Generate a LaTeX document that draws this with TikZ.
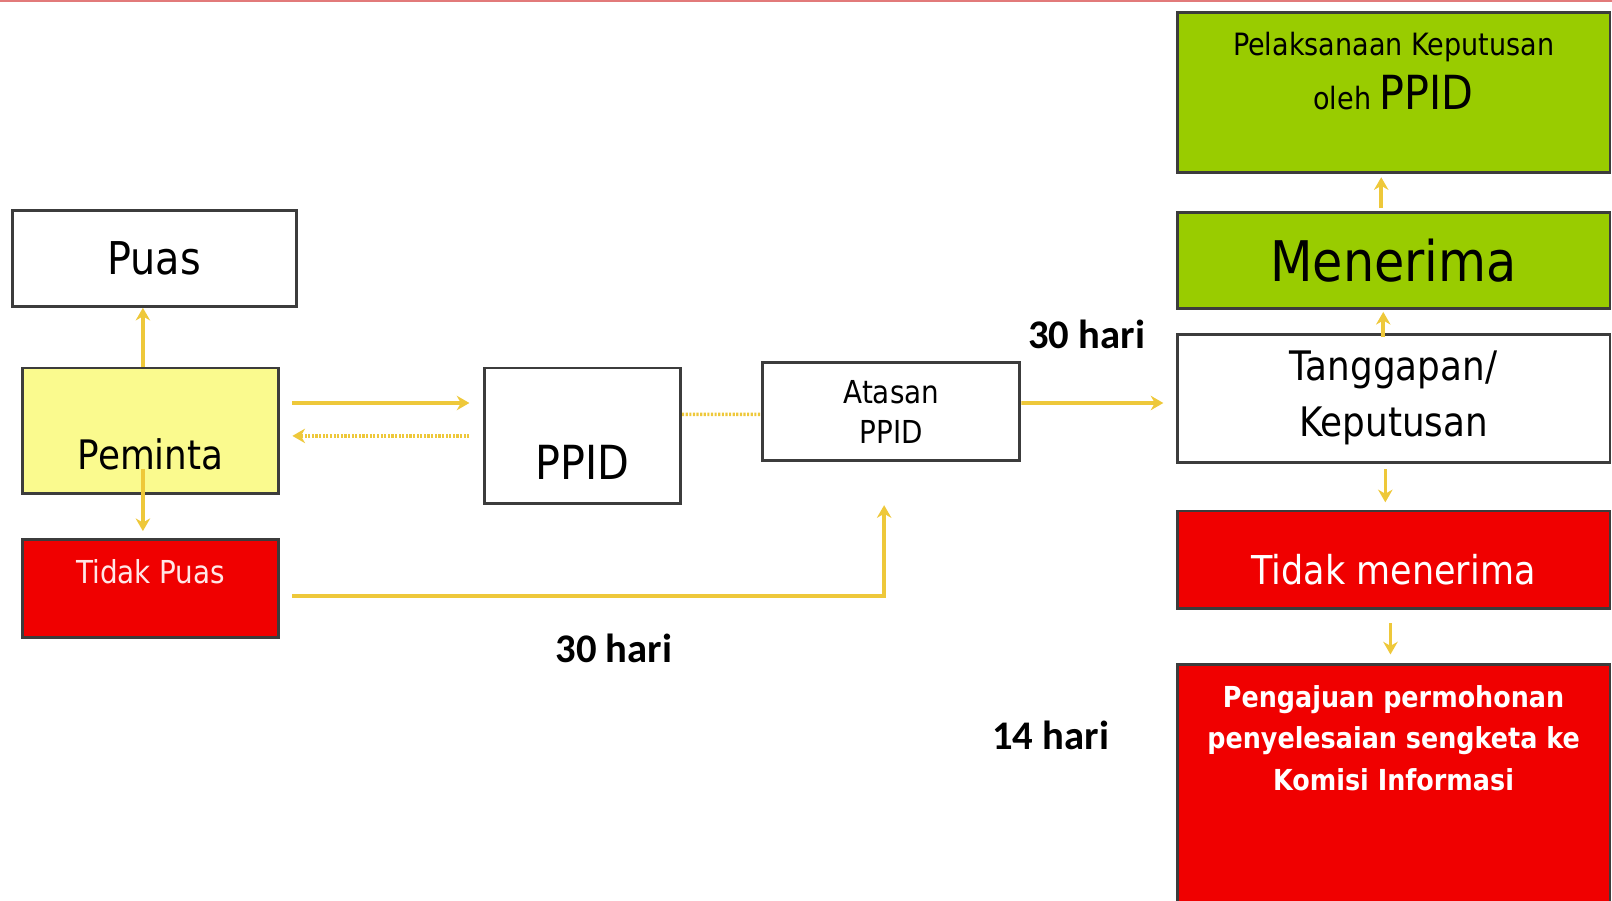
\documentclass[tikz,border=0pt]{standalone}
\usepackage{fontspec}
\setmainfont{DejaVu Sans}[FakeStretch=0.88]
\newfontfamily\harifont{Carlito}
\usetikzlibrary{arrows.meta,positioning,calc}

\definecolor{kuning}{HTML}{FAFA8E}
\definecolor{hijau}{HTML}{99CC00}
\definecolor{merah}{HTML}{F00000}
\definecolor{emas}{HTML}{EEC83A}
\definecolor{garis}{HTML}{3C3C3C}
\definecolor{garisatas}{HTML}{E27A7A}
\definecolor{tekspucat}{HTML}{FFE6E6}

\begin{document}
\begin{tikzpicture}[x=0.2mm, y=-0.2mm,
    kotak/.style={draw=garis, line width=1.6pt, inner sep=0pt, align=center},
    panah/.style={-{Stealth[length=7pt,width=8pt]}, line width=2pt, emas},
    titik/.style={line width=2pt, emas, dash pattern=on 1.2pt off 0.8pt},
    hari/.style={font=\harifont\bfseries\fontsize{22.5}{26}\selectfont}]
  \useasboundingbox (0,0) rectangle (1568,876);
  \draw[garisatas, line width=1.2pt] (0,1) -- (1568,1);

  % kiri
  \node[kotak, minimum width=55.2mm, minimum height=18.6mm,
    font=\fontsize{25}{29}\selectfont] (puas) at (150,251.5) {Puas};
  \node[kotak, fill=kuning, minimum width=49.8mm, minimum height=24.4mm,
    label={[font=\fontsize{22.5}{27}\selectfont, yshift=-4.6mm]center:Peminta}]
    (peminta) at (146.5,419) {};
  \node[kotak, fill=merah, minimum width=49.8mm, minimum height=19mm,
    label={[font=\fontsize{17.5}{21}\selectfont, text=tekspucat, yshift=3.2mm]center:Tidak Puas}]
    (tidakpuas) at (146.5,572.5) {};

  % tengah
  \node[kotak, minimum width=38.2mm, minimum height=26.4mm,
    label={[font=\fontsize{26}{30}\selectfont, yshift=-5.2mm]center:PPID}]
    (ppid) at (566.5,424) {};
  \node[kotak, minimum width=50mm, minimum height=19mm,
    font=\fontsize{17.5}{22}\selectfont] (atasan) at (867,400.5) {Atasan\\PPID};

  % kanan
  \node[kotak, fill=hijau, minimum width=84.2mm, minimum height=31.2mm,
    label={[font=\fontsize{17}{30}\selectfont, align=center, yshift=4.2mm]center:Pelaksanaan Keputusan\\oleh {\fontsize{26}{30}\selectfont PPID}}]
    (pelaksanaan) at (1355.5,90) {};
  \node[kotak, fill=hijau, minimum width=84.2mm, minimum height=18.6mm,
    font=\fontsize{31}{35}\selectfont] (menerima) at (1355.5,253.5) {Menerima};
  \node[kotak, minimum width=84.2mm, minimum height=25mm,
    font=\fontsize{22.5}{31}\selectfont] (tanggapan) at (1355.5,387.5) {Tanggapan/\\Keputusan};
  \node[kotak, fill=merah, minimum width=84.2mm, minimum height=19mm,
    label={[font=\fontsize{22}{26}\selectfont, text=white, yshift=-2mm]center:Tidak menerima}]
    (tidakmenerima) at (1355.5,544.5) {};
  \node[kotak, fill=merah, minimum width=84.2mm, minimum height=50.8mm,
    label={[font=\bfseries\fontsize{16}{23}\selectfont, text=white, align=center, yshift=11mm]center:Pengajuan permohonan\\penyelesaian sengketa ke\\Komisi Informasi}]
    (pengajuan) at (1355.5,773) {};

  % label waktu
  \node[hari] (hariatasan) at (1057,325) {30 hari};
  \node[hari] (haribawah) at (597,631) {30 hari};
  \node[hari] (harikomisi) at (1022,715) {14 hari};

  % panah
  \draw[panah] ([xshift=-1.5mm]peminta.north) -- ([xshift=-1.5mm]peminta.north |- puas.south);
  \draw[panah] ($(peminta.south)+(-7.5,-25)$) -- ($(tidakpuas.north)+(-7.5,-7)$);
  \draw[panah] ($(peminta.east)+(12,-27)$) -- ($(ppid.west)+(-13,-32)$);
  \draw[titik, -{Stealth[length=7pt,width=8pt]}] ($(ppid.west)+(-13,0)$) -- ($(peminta.east)+(12,5)$);
  \draw[titik] ($(ppid.east)+(0,-21)$) -- ($(atasan.west)+(0,2.5)$);
  \draw[panah] ($(tidakpuas.east)+(12,7.5)$) -| ($(atasan.south)+(-7,42)$);
  \draw[panah] ($(atasan.east)+(0,-8.5)$) -- ($(tanggapan.west)+(-12,4.5)$);
  \draw[panah] ($(tanggapan.north)+(-10,4)$) -- ($(menerima.south)+(-10,2)$);
  \draw[panah] ($(menerima.north)+(-12,-3)$) -- ($(pelaksanaan.south)+(-12,3)$);
  \draw[panah] ($(tanggapan.south)+(-8,5)$) -- ($(tidakmenerima.north)+(-8,-7)$);
  \draw[panah] ($(tidakmenerima.south)+(-3,13)$) -- ($(pengajuan.north)+(-3,-8)$);
\end{tikzpicture}
\end{document}
